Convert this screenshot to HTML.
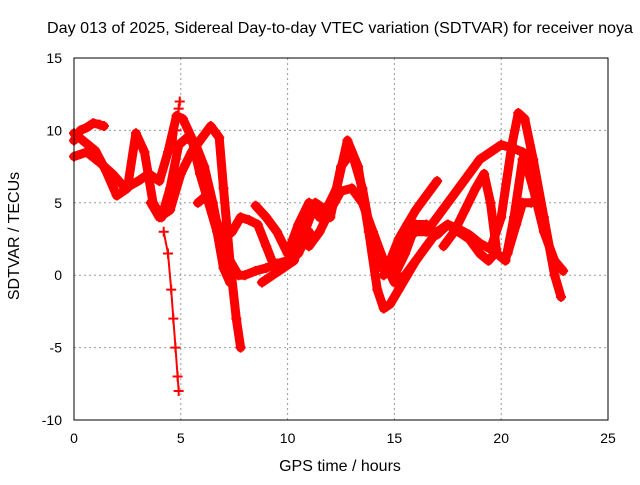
<!DOCTYPE html>
<html><head><meta charset="utf-8"><style>
body{margin:0;background:#fff;}
svg text{font-family:"Liberation Sans",sans-serif;font-size:14px;fill:#000;}
svg text.big{font-size:16px;}
</style></head><body>
<svg id="chart" width="640" height="480" xmlns="http://www.w3.org/2000/svg">
<text class="big" x="340" y="33" text-anchor="middle" textLength="586" lengthAdjust="spacingAndGlyphs">Day 013 of 2025, Sidereal Day-to-day VTEC variation (SDTVAR) for receiver noya</text>
<text class="big" x="340" y="471" text-anchor="middle">GPS time / hours</text>
<text class="big" transform="translate(19,236) rotate(-90)" text-anchor="middle">SDTVAR / TECUs</text>
<g id="grid"></g>
<g id="ticks"></g>
<g id="series"></g>
<rect x="74" y="58" width="534" height="362" fill="none" stroke="#000" stroke-width="1"/>
</svg>
<script>
const xTicks=[0,5,10,15,20,25];
const yTicks=[-10,-5,0,5,10,15];
const s1h=[0,0.3,0.6,0.9,1.2,1.4], s1v=[9.3,10,10.2,10.5,10.4,10.3];
const s2h=[0,0.5,1,1.5,2,2.5,2.9,3.3,3.7,4.1,4.5,4.9,5.3,5.7,6.1,6.5,6.9,7.3,7.7,8,8.5,9,9.5,10,10.5], s2v=[9.8,9.2,8.6,7.2,5.5,6,9.8,8.5,5,4,6,9,9.5,9,7.5,5,2,1,0,0,0.3,0.5,0.8,1,2];
const s3h=[0,0.6,1.2,1.8,2.4,3,3.5,4,4.4,4.8,5.1,5.5,5.9,6.3,6.7,7,7.3], s3v=[8.2,8.5,7.8,7,6,6.5,7,6.5,8.5,11,10.8,9.5,7,5,3,0.5,-0.5];
const s4h=[3.6,4,4.5,5,5.5,6,6.4,6.8,7,7.3,7.6,7.8], s4v=[5,4,4.5,7,8.5,9.5,10.3,9.5,6,1,-3,-5];
const s5h=[4.2,4.4,4.55,4.65,4.75,4.85,4.9], s5v=[3,1.5,-1,-3,-5,-7,-8];
const s6h=[5.8,6.2,6.6,7,7.4,7.8,8.2,8.6,9,9.4,10,10.5,11], s6v=[5,5.5,4,2.5,3,4,3.8,3.5,2,0.5,1,1.5,3];
const s7h=[8.8,9.3,9.8,10.3,10.8,11.3,11.8,12.3,12.8,13.3,13.8,14.2,14.5,14.8,15.2,15.6,16], s7v=[-0.5,0,0.5,1,3,5,4.5,6,9.3,7.5,3,-1,-2.3,-2,-1,0,1];
const s8h=[8.5,9,9.5,10,10.5,11,11.5,12,12.5,13,13.5,14,14.4,14.8,15.2,15.6,16,16.5,17], s8v=[4.8,4,3,1.5,3.5,5,4,4,7.5,8.5,6,2,0.5,1,2.5,3.5,4.5,5.5,6.5];
const s9h=[11,11.5,12,12.5,13,13.5,14,14.5,15,15.5,16,16.5,17,17.5,18,18.5,19,19.5,20,20.5,20.8,21.1,21.5,22,22.5,22.8], s9v=[2,3,4.5,5.8,6,5,3,1,-0.5,0,1,2,3,3.5,3.2,2.8,2.2,1.8,4,9,11.2,10.8,8,4,0,-1.5];
const s10h=[14.5,15,15.5,16,16.5,17,17.5,18,18.5,19,19.5,20,20.5,21,21.5,22,22.5,22.9], s10v=[0,1,2.5,3,3,4,5,6,7,8,8.5,9,8.8,8.5,6,3,1,0.3];
const s11h=[15,15.5,16,16.5,17,17.5,18,18.5,19,19.4,19.7], s11v=[0,1.5,3.5,3.5,2.8,3.5,3,2.5,1.5,1,1.5];
const s12h=[17.3,17.8,18.3,18.8,19.2,19.5,19.8,20.2,20.6,21,21.3], s12v=[2,3,4.5,6,7,5,1.5,1,4,8,8.5];
const s13h=[20.3,20.7,21,21.4], s13v=[1.5,3.5,5,5];
const s14h=[4.75,4.8,4.85,4.9,4.95], s14v=[9,10,11,11.5,12];
const series=[[s1h,s1v],[s2h,s2v],[s3h,s3v],[s4h,s4v],[s5h,s5v],[s6h,s6v],[s7h,s7v],[s8h,s8v],[s9h,s9v],[s10h,s10v],[s11h,s11v],[s12h,s12v],[s13h,s13v],[s14h,s14v]];
const NS="http://www.w3.org/2000/svg";
const X0=74,X1=608,Y0=420,Y1=58;
function xs(h){return X0+(h-0)/(25-0)*(X1-X0);}
function ys(v){return Y0-(v+10)/(15+10)*(Y0-Y1);}
const grid=document.getElementById('grid'),ticks=document.getElementById('ticks'),ser=document.getElementById('series');
function mk(t,a,p){const e=document.createElementNS(NS,t);for(const k in a)e.setAttribute(k,a[k]);p.appendChild(e);return e;}
xTicks.forEach(t=>{
  const x=xs(t);
  if(t>0&&t<25){const g=mk('line',{x1:x,x2:x,y1:Y0,y2:Y1,stroke:'#999','stroke-dasharray':'2,3'},grid);
  
  }
  const l=mk('text',{x:x,y:443,'text-anchor':'middle'},ticks);l.textContent=t;
  
  
});
yTicks.forEach(t=>{
  const y=ys(t);
  if(t>-10&&t<15){const g=mk('line',{x1:X0,x2:X1,y1:y,y2:y,stroke:'#999','stroke-dasharray':'2,3'},grid);
  
  }
  const l=mk('text',{x:62,y:y+5,'text-anchor':'end'},ticks);l.textContent=t;
  
  
});
series.forEach((s,i)=>{
  const [hs,vs]=s;
  const d=hs.map((h,j)=>(j?'L':'M')+xs(h).toFixed(1)+' '+ys(vs[j]).toFixed(1)).join(' ');
  const sparse=(i===4||i===13);
  const p=mk('path',{d:d,fill:'none',stroke:'#f00','stroke-width':sparse?2:9,'stroke-linejoin':'round','stroke-linecap':'round'},ser);
  
  
  hs.forEach((h,j)=>{
    const x=xs(h),y=ys(vs[j]);
    const m=mk('path',{d:`M${x-5} ${y}H${x+5}M${x} ${y-5}V${y+5}`,stroke:'#f00','stroke-width':2},ser);
    
    
  });
});
</script>
</body></html>
